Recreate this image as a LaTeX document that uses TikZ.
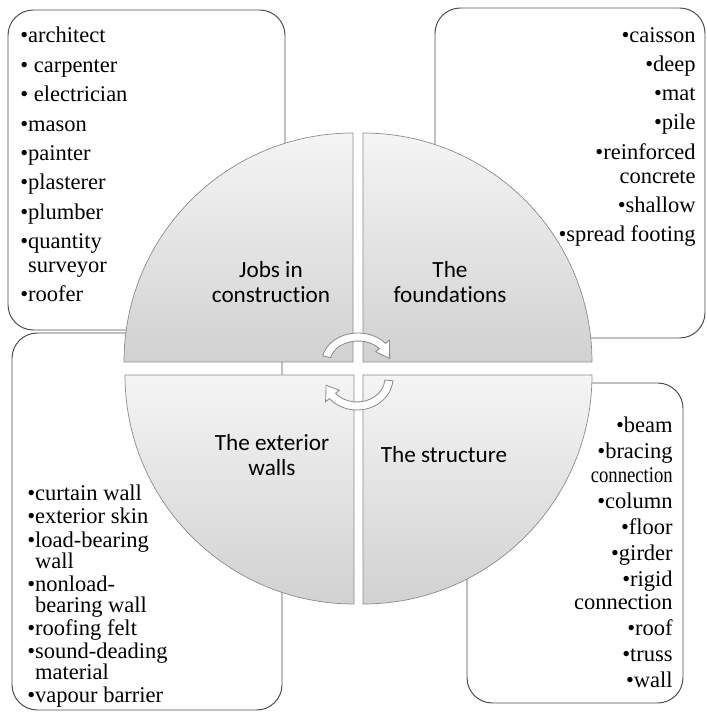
\documentclass[tikz,border=0pt]{standalone}
\usepackage{fontspec}
\usepackage{graphicx}
\setmainfont{Liberation Serif}
\newfontfamily\itemsfont{Liberation Serif}
\newfontfamily\quadfont[RawFeature={-liga;-calt}]{Carlito}

\newcommand{\bul}{\textbullet}
\newcommand{\nobul}{\phantom{\textbullet}}

\tikzset{
  panel/.style={draw=black!70, line width=0.7pt, rounded corners=18pt},
  quadrant/.style={draw=black!45, line width=0.5pt, top color=black!4, bottom color=black!18},
  quadlabel/.style={font=\quadfont\fontsize{16.5}{17.7}\selectfont, align=center, inner sep=0pt},
  listtext/.style={inner sep=0pt},
  turn/.style={fill=white, draw=black!45, line width=0.6pt}
}

\begin{document}
\begin{tikzpicture}[x=0.025cm, y=0.025cm]
  \useasboundingbox (0,0) rectangle (707,712);

  % panels behind the wheel
  \draw[panel] (8,382) rectangle (285,702);
  \draw[panel] (435,374) rectangle (705,704);
  \draw[panel] (12,2) rectangle (282,379);
  \draw[panel] (467,9) rectangle (683,329);

  % the four quarters
  \draw[quadrant] (353,350) -- (124,350) arc[start angle=180, end angle=90, radius=229] -- cycle;
  \draw[quadrant] (363,350) -- (363,579) arc[start angle=90, end angle=0, radius=229] -- cycle;
  \draw[quadrant] (354,337) -- (354,108) arc[start angle=270, end angle=180, radius=229] -- cycle;
  \draw[quadrant] (363,337) -- (592,337) arc[start angle=0, end angle=-90, radius=229] -- cycle;

  \node[quadlabel] (jobs) at (271,430) {Jobs in\\construction};
  \node[quadlabel] (found) at (450,430) {The\\foundations};
  \node[quadlabel] (walls) at (272,257) {The exterior\\walls};
  \node[quadlabel] (struct) at (444,257) {The structure};

  % turning arrows in the middle
  \begin{scope}[shift={(358,350)}]
    \draw[turn] (168:36 and 29) arc[start angle=168, end angle=40, x radius=36, y radius=29]
      -- (40:41 and 34) -- (8:32 and 25) -- (40:23 and 16) -- (40:28 and 21)
      arc[start angle=40, end angle=168, x radius=28, y radius=21] -- cycle;
  \end{scope}
  \begin{scope}[shift={(357,334)}]
    \draw[turn] (-5:36 and 32) arc[start angle=-5, end angle=-140, x radius=36, y radius=32]
      -- (-140:41 and 37) -- (-165:32 and 28) -- (-140:23 and 19) -- (-140:28 and 24)
      arc[start angle=-140, end angle=-5, x radius=28, y radius=24] -- cycle;
  \end{scope}

  % lists
  \node[listtext, font=\itemsfont\fontsize{16pt}{17pt}\selectfont, align=left, anchor=north west] (jobslist) at (20,685) {%
    \bul architect\\[3.9pt]\bul\ carpenter\\[3.9pt]\bul\ electrician\\[3.9pt]\bul mason\\[3.9pt]%
    \bul painter\\[3.9pt]\bul plasterer\\[3.9pt]\bul plumber\\[3.9pt]\bul quantity\\\nobul surveyor\\[3.9pt]%
    \bul roofer};
  \node[listtext, font=\itemsfont\fontsize{16pt}{17pt}\selectfont, align=right, anchor=north east] (foundlist) at (696,685) {%
    \bul caisson\\[3.8pt]\bul deep\\[3.8pt]\bul mat\\[3.8pt]\bul pile\\[3.8pt]\bul reinforced\\concrete\\[3.8pt]%
    \bul shallow\\[3.8pt]\bul spread footing};
  \node[listtext, font=\itemsfont\fontsize{16pt}{15pt}\selectfont, align=left, anchor=north west] (wallslist) at (27,227) {%
    \bul curtain wall\\[1.4pt]\bul exterior skin\\[1.4pt]\bul load-bearing\\\nobul wall\\[1.4pt]%
    \bul nonload-\\\nobul bearing wall\\[1.4pt]\bul roofing felt\\[1.4pt]\bul sound-deading\\\nobul material\\[1.4pt]%
    \bul vapour barrier};
  \node[listtext, font=\itemsfont\fontsize{16pt}{16.5pt}\selectfont, align=right, anchor=north east] (structlist) at (673,295) {%
    \bul beam\\[2pt]\bul bracing\\\scalebox{0.83}[1]{connection}\\[2pt]\bul column\\[2pt]\bul floor\\[2pt]%
    \bul girder\\[2pt]\bul rigid\\connection\\[2pt]\bul roof\\[2pt]\bul truss\\[2pt]\bul wall};
\end{tikzpicture}
\end{document}
